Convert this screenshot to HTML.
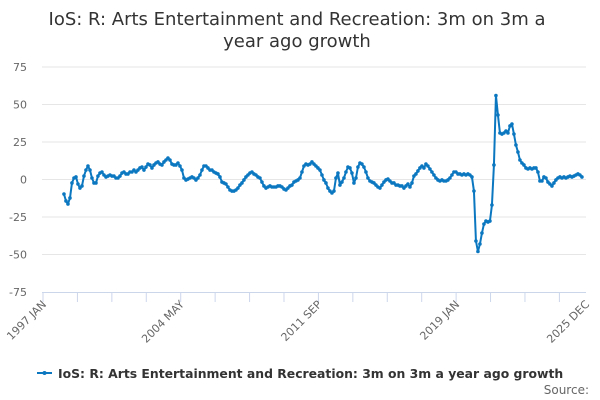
<!DOCTYPE html>
<html><head><meta charset="utf-8"><style>
body{margin:0;background:#fff;font-family:"DejaVu Sans","Liberation Sans",sans-serif}
svg{display:block}
</style></head><body>
<svg id="chart" width="600" height="400" font-family="DejaVu Sans, Liberation Sans, sans-serif">
<text x="297" y="25" text-anchor="middle" font-size="18" fill="#333">IoS: R: Arts Entertainment and Recreation: 3m on 3m a</text>
<text x="297" y="47" text-anchor="middle" font-size="18" fill="#333">year ago growth</text>
<g id="grid"></g><g id="yl"></g><g id="xa"></g><g id="series"></g>
<g>
<line x1="37" y1="373" x2="52" y2="373" stroke="#0a77c0" stroke-width="2"/>
<circle cx="44.5" cy="373" r="2" fill="#0a77c0"/>
<text x="58" y="378" font-size="12.4" font-weight="bold" fill="#333">IoS: R: Arts Entertainment and Recreation: 3m on 3m a year ago growth</text>
</g>
<text x="589" y="394" text-anchor="end" font-size="12" fill="#666">Source:</text>
</svg>
<script>
const yTicks=[75,50,25,0,-25,-50,-75];
const xLabels=["1997 JAN","2004 MAY","2011 SEP","2019 JAN","2025 DEC"];
const xLabelMonths=[0,88,176,264,347];
const sampleStartMonth=13.4, monthsPerSample=1.278;
const values=[-9.7,-14.3,-16.3,-12.3,-2.3,1,1.7,-3,-5.7,-4.3,2.3,6.3,9,6.3,1,-2.3,-2.3,2.3,4.3,5,3,1.7,2.3,3,2.3,2.3,1,1,2.3,4.3,5,3.7,3.7,5,5,6.3,5,6.3,7.7,8.3,6.3,8.3,10.3,9.7,7.7,9.7,11,11.7,10.3,9.7,11.7,13,14.3,13,10.3,9.7,9.7,11,9,6.3,1,-0.3,0.3,1,1.7,1,-0.3,1,3,6.3,9,9,7.7,6.3,6.3,5,4.3,3.7,1.7,-1.7,-2.3,-3,-5,-7,-7.7,-7.7,-7,-5.7,-3.7,-2.3,-0.3,1.7,3,4.3,5,3.7,3,1.7,1,-1.7,-4.3,-5.7,-5,-4.3,-5,-5,-5,-4.3,-4.3,-5,-6.3,-7,-5.7,-4.3,-3.7,-1.7,-1,-0.3,1,5,9,10.3,9.7,10.3,11.7,10.3,9,7.7,6.3,3,-0.3,-2.3,-5.7,-7.7,-9,-7.7,1,4.3,-3.7,-1.7,1,5,8.3,7.7,4.3,-2.3,1,8.3,11,10.3,8.3,5,1,-1,-1.7,-2.3,-3.7,-5,-5.7,-3.7,-1.7,-0.3,0.3,-1,-2.3,-2.3,-3.7,-3.7,-4.3,-4.3,-5.7,-4.3,-3,-5,-2.3,2.3,3.7,5.7,7.7,9,7.7,10.3,9,7,5,3,1,-0.3,-1,-0.3,-1,-1,-0.3,1,3,5,5,3.7,3.7,3,3.7,3,3.7,3,1.7,-7.7,-41,-48,-43,-35.7,-29.7,-27.7,-28.3,-27.7,-17,9.7,56,43,31,30.3,31,32.3,31,35.7,37,30.3,23,18.3,13,11,9.7,7.7,7,7.7,7,7.7,7.7,5,-1,-1,1.7,1,-1.7,-3,-4.3,-2.3,-0.3,1,1.7,1,1.7,1,1.7,2.3,1.7,2.3,3,3.7,3,1.7];
const NS="http://www.w3.org/2000/svg";
const X0=43,X1=586,M=347,Y0=179.5,PY=1.5;
const xs=m=>X0+m*(X1-X0)/M, ys=v=>Y0-v*PY;
function mk(t,a,p){const e=document.createElementNS(NS,t);for(const k in a)e.setAttribute(k,a[k]);p.appendChild(e);return e;}
const grid=document.getElementById('grid'),yl=document.getElementById('yl'),xa=document.getElementById('xa'),se=document.getElementById('series');
yTicks.forEach(v=>{
 if(v!==-75){const g=mk('line',{x1:42,x2:586,y1:ys(v),y2:ys(v),stroke:'#e6e6e6','stroke-width':1},grid);
 
 }
 const t=mk('text',{x:27,y:ys(v)+4,'text-anchor':'end','font-size':11,fill:'#666'},yl);t.textContent=v;
 
 
});
const ax=mk('line',{x1:42,x2:586,y1:292.5,y2:292.5,stroke:'#ccd6eb'},xa);


for(let m=0;m<=M+1;m+=22){const x=Math.min(xs(m),585.5);const tk=mk('line',{x1:x,x2:x,y1:292,y2:302,stroke:'#ccd6eb'},xa);
 
 }
xLabels.forEach((l,i)=>{const x=xs(xLabelMonths[i])+4,y=305;
 const t=mk('text',{x:x,y:y,'text-anchor':'end','font-size':11,fill:'#666',transform:`rotate(-45 ${x} ${y})`},xa);t.textContent=l;
 
 });
const pts=values.map((v,i)=>[xs(sampleStartMonth+i*monthsPerSample),ys(v)]);
const pl=mk('polyline',{points:pts.map(p=>p.join(',')).join(' '),fill:'none',stroke:'#0a77c0','stroke-width':2,'stroke-linejoin':'round'},se);


pts.forEach(p=>{const c=mk('circle',{cx:p[0],cy:p[1],r:1.8,fill:'#0a77c0'},se);
 
 });
</script>
</body></html>
